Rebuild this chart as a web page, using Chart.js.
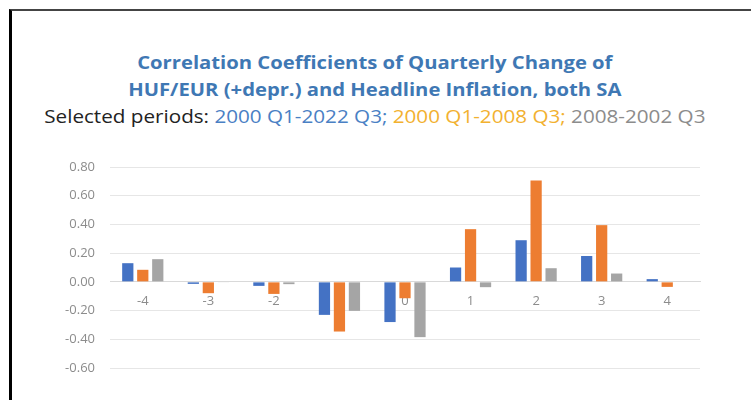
<!DOCTYPE html>
<html>
<head>
<meta charset="utf-8">
<script src="https://cdn.jsdelivr.net/npm/chart.js@4.4.1/dist/chart.umd.min.js"></script>
<style>
  html, body { margin: 0; padding: 0; background: #fff; }
  #wrap { position: relative; width: 751px; height: 400px; overflow: hidden; }
  #frame { position: absolute; left: 9px; top: 9px; right: 0; bottom: 0;
           border-top: 2px solid #444; border-left: 3px solid #000; }
  .ttl { position: absolute; left: 0; width: 751px; text-align: center; white-space: nowrap;
         font-family: "Open Sans", sans-serif; transform-origin: 379px 50%; }
  #t1, #t2 { color: #3f78b4; font-weight: 700; font-size: 17px; transform: scaleX(1.19); }
  #t1 { top: 51px; }
  #t2 { top: 78px; }
  #t3 { top: 104px; font-size: 17.5px; color: #222; transform: scaleX(1.18); }
  #t3 .b { color: #4a80c4; }
  #t3 .o { color: #f2b130; }
  #t3 .g { color: #8c8c8c; }
  canvas { position: absolute; left: 0; top: 0; }
</style>
</head>
<body>
<div id="wrap">
  <div id="frame"></div>
  <div class="ttl" id="t1">Correlation Coefficients of Quarterly Change of</div>
  <div class="ttl" id="t2">HUF/EUR (+depr.) and Headline Inflation, both SA</div>
  <div class="ttl" id="t3">Selected periods: <span class="b">2000 Q1-2022 Q3;</span> <span class="o">2000 Q1-2008 Q3;</span> <span class="g">2008-2002 Q3</span></div>
  <canvas id="chart" width="751" height="400"></canvas>
</div>
<script>
// --- Data ---
const lags = ['-4', '-3', '-2', '-1', '0', '1', '2', '3', '4'];
const fullPeriod = [0.13, -0.014, -0.028, -0.23, -0.28, 0.10, 0.29, 0.18, 0.019];
const prePeriod = [0.084, -0.079, -0.084, -0.346, -0.114, 0.367, 0.706, 0.395, -0.035];
const postPeriod = [0.158, -0.003, -0.016, -0.202, -0.385, -0.037, 0.095, 0.058, 0];
const yTicks = [-0.6, -0.4, -0.2, 0, 0.2, 0.4, 0.6, 0.8];

const tickFont = { family: 'Open Sans', size: 13 };

new Chart(document.getElementById('chart').getContext('2d'), {
  type: 'bar',
  data: {
    labels: lags,
    datasets: [
      { label: '2000 Q1-2022 Q3', data: fullPeriod, backgroundColor: '#4472c4' },
      { label: '2000 Q1-2008 Q3', data: prePeriod, backgroundColor: '#ed7d31' },
      { label: '2008-2002 Q3', data: postPeriod, backgroundColor: '#a5a5a5' },
    ]
  },
  options: {
    responsive: false,
    animation: false,
    layout: { padding: { left: 0, right: 51, top: 167, bottom: 32 } },
    datasets: { bar: { categoryPercentage: 0.686, barPercentage: 0.75 } },
    plugins: { legend: { display: false }, title: { display: false }, tooltip: { enabled: false } },
    scales: {
      x: {
        position: { y: 0 },
        grid: { display: false, drawTicks: false },
        border: { color: '#d9d9d9' },
        ticks: { color: '#8c8c8c', font: tickFont, padding: 12 }
      },
      y: {
        min: -0.6,
        max: 0.8,
        afterFit: scale => { scale.width = 110; },
        afterBuildTicks: scale => { scale.ticks = yTicks.map(v => ({ value: v })); },
        grid: { color: '#e6e6e6', drawTicks: false },
        border: { display: false },
        ticks: { color: '#8c8c8c', font: tickFont, padding: 15, callback: v => v.toFixed(2) }
      }
    }
  }
});
</script>
</body>
</html>
